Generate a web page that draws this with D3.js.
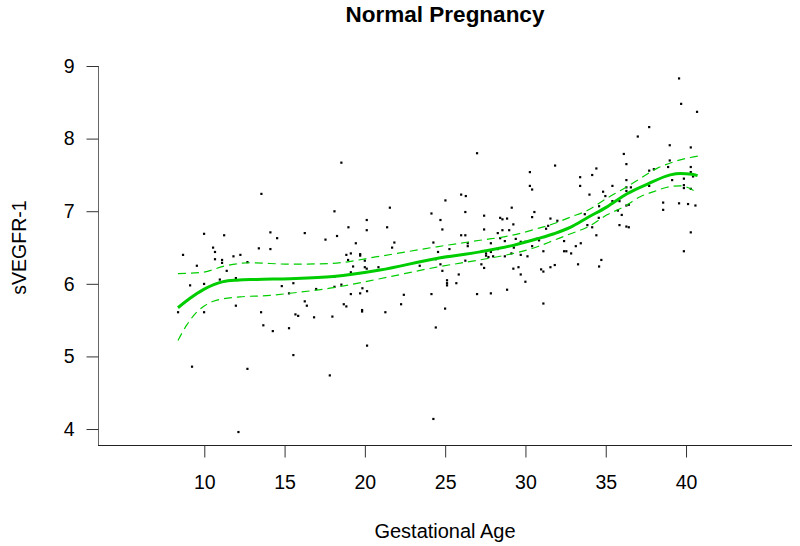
<!DOCTYPE html>
<html>
<head>
<meta charset="utf-8">
<script src="https://cdn.jsdelivr.net/npm/d3@7"></script>
<style>
  html, body { margin: 0; padding: 0; background: #ffffff; }
  svg { display: block; }
  text { font-family: "Liberation Sans", Arial, Helvetica, sans-serif; fill: #000; }
</style>
</head>
<body>
<svg id="chart" width="800" height="546"></svg>
<script>
// ---- data ----
const title = "Normal Pregnancy";
const xLabel = "Gestational Age";
const yLabel = "sVEGFR-1";
const xTicks = [10, 15, 20, 25, 30, 35, 40];
const yTicks = [4, 5, 6, 7, 8, 9];

// observations: gestational age (weeks) and sVEGFR-1
const ga = [9.98,11.23,14.11,14.53,8.67,10.54,10.66,10.66,11.10,11.10,11.81,12.24,13.39,14.11,9.53,12.68,11.39,9.11,9.98,10.96,11.96,14.82,15.27,8.36,9.98,11.96,13.53,13.67,14.26,15.27,9.23,12.68,
13.55,12.12,15.54,15.67,15.84,15.54,
18.53,18.10,21.55,20.11,18.97,20.11,21.38,16.25,18.26,17.54,19.43,21.83,21.69,18.84,19.12,19.70,19.70,18.95,19.99,19.26,19.99,20.11,20.84,19.12,18.10,18.10,18.53,16.96,19.84,20.13,19.70,19.12,16.25,16.38,18.68,18.84,19.82,19.82,21.27,22.25,16.83,17.97,20.13,17.81,
26.98,25.99,26.28,25.01,24.14,26.25,24.70,27.42,28.42,28.56,24.82,27.42,28.56,28.27,25.99,26.25,28.42,28.71,24.26,26.40,26.40,27.84,25.26,28.27,24.55,27.54,27.54,27.84,27.69,27.98,28.71,24.41,26.25,24.70,27.25,27.42,23.41,24.82,25.84,25.11,25.11,25.11,25.69,22.42,24.14,26.98,27.84,24.99,24.41,24.26,
31.84,30.27,34.41,33.40,34.15,30.27,30.41,33.40,34.83,34.97,33.98,29.14,30.55,30.41,28.85,31.55,31.98,33.69,34.56,34.58,29.24,28.98,31.41,31.28,33.85,34.15,34.41,29.39,30.70,30.84,29.70,29.99,32.40,29.27,30.41,33.44,33.13,31.11,32.40,32.54,32.84,29.12,29.70,30.12,34.72,33.27,31.82,31.55,34.58,29.24,29.56,30.97,31.11,29.70,29.99,28.85,31.11,
39.56,39.69,40.68,37.70,36.99,36.12,38.98,40.29,36.28,38.98,38.88,37.70,37.99,40.29,40.29,40.43,39.86,39.13,36.28,35.41,36.28,36.56,36.28,37.70,39.86,39.86,40.29,35.41,35.85,38.57,39.56,40.12,40.58,36.28,36.43,35.75,38.57,35.99,35.85,36.28,36.43,40.29,39.86];
const sflt = [6.69,6.67,6.71,6.63,6.40,6.50,6.44,6.34,6.33,6.29,6.38,6.40,6.49,6.48,6.25,6.30,6.18,5.98,6.00,6.06,6.08,5.97,5.87,5.61,5.61,5.70,5.61,5.43,5.35,5.39,4.86,4.83,
7.24,3.96,6.01,5.58,5.56,5.02,
7.67,7.00,7.05,6.88,6.78,6.74,6.78,6.70,6.66,6.61,6.56,6.57,6.50,6.40,6.42,6.41,6.39,6.33,6.32,6.24,6.23,6.21,6.23,6.16,6.10,5.96,5.99,5.93,5.94,5.90,5.87,5.86,5.76,5.70,5.72,5.69,5.64,5.62,5.61,5.72,5.54,5.55,5.15,4.74,
7.80,7.23,7.21,7.15,6.97,6.99,6.88,6.94,6.91,6.89,6.75,6.75,6.74,6.70,6.67,6.67,6.63,6.59,6.57,6.56,6.52,6.56,6.48,6.48,6.44,6.42,6.39,6.44,6.37,6.38,6.38,6.34,6.32,6.27,6.27,6.22,6.25,6.18,6.13,6.05,6.01,5.98,6.01,5.85,5.86,5.86,5.87,5.66,5.40,4.14,
7.63,7.54,7.59,7.47,7.50,7.35,7.30,7.35,7.27,7.21,7.23,7.05,6.99,6.92,6.90,6.90,6.87,6.96,6.91,7.07,6.82,6.74,6.80,6.76,6.81,6.78,6.67,6.62,6.62,6.60,6.58,6.58,6.59,6.50,6.52,6.56,6.52,6.45,6.45,6.45,6.42,6.42,6.40,6.38,6.33,6.27,6.26,6.23,6.24,6.21,6.23,6.20,6.17,6.13,6.03,5.92,5.73,
8.83,8.48,8.37,8.16,8.03,7.79,7.91,7.88,7.65,7.70,7.61,7.56,7.58,7.61,7.54,7.48,7.45,7.43,7.43,7.35,7.33,7.33,7.28,7.35,7.36,7.32,7.31,7.14,7.14,7.12,7.11,7.10,7.08,7.08,7.09,7.01,7.02,6.95,6.81,6.79,6.78,6.71,6.45];

// fitted curve
const fitAge = [8.36,9.11,9.94,11.18,12.02,13.26,15.34,18.03,20.94,24.47,27.17,29.24,30.74,31.78,32.82,33.85,35.08,36.33,37.57,39.02,39.64,40.37,40.72];
const fitVal = [5.67,5.80,5.92,6.03,6.05,6.06,6.07,6.10,6.19,6.35,6.44,6.53,6.62,6.69,6.78,6.91,7.06,7.24,7.37,7.50,7.52,7.51,7.49];
// upper confidence band
const upperAge = [8.36,9.94,11.18,12.85,14.09,15.34,17.83,20.94,24.47,27.17,28.98,30.74,31.78,32.82,33.85,35.08,36.12,37.15,38.19,39.23,40.27,40.79];
const upperVal = [6.14,6.16,6.24,6.29,6.28,6.27,6.28,6.38,6.51,6.60,6.66,6.76,6.83,6.92,7.01,7.18,7.31,7.45,7.59,7.68,7.74,7.76];
// lower confidence band
const lowerAge = [8.36,8.90,9.53,10.04,10.56,12.22,14.09,15.34,17.83,20.94,24.47,27.17,28.66,30.74,31.78,32.82,33.85,35.08,36.12,37.15,37.99,38.82,39.64,40.52];
const lowerVal = [5.22,5.43,5.61,5.70,5.76,5.82,5.84,5.87,5.94,6.07,6.23,6.33,6.39,6.51,6.60,6.69,6.78,6.95,7.06,7.20,7.27,7.33,7.35,7.28];

// plot-region extent in data units
const xExtent = [3.38, 46.6];
const yExtent = [3.78, 9];

// ---- drawing ----
const svg = d3.select("#chart");
const x = d3.scaleLinear().domain(xExtent).range([98, 792]);
const y = d3.scaleLinear().domain(yExtent).range([445, 66]);
const green = "#00cd00";

// L-shaped frame
svg.append("line")
  .attr("x1", x(xExtent[0]) + 0.5).attr("x2", x(xExtent[0]) + 0.5)
  .attr("y1", y(yExtent[1])).attr("y2", y(yExtent[0]) + 0.5)
  .attr("stroke", "#666").attr("stroke-width", 1);
svg.append("line")
  .attr("x1", x(xExtent[0])).attr("x2", x(xExtent[1]))
  .attr("y1", y(yExtent[0]) + 0.5).attr("y2", y(yExtent[0]) + 0.5)
  .attr("stroke", "#222").attr("stroke-width", 1);

// x axis
const xAxis = d3.axisBottom(x).tickValues(xTicks).tickSize(12).tickPadding(18).tickFormat(d3.format("d"));
const gx = svg.append("g").attr("transform", `translate(0,${y(yExtent[0]) + 0.5})`).call(xAxis);
gx.select(".domain").remove();
gx.selectAll(".tick line").attr("stroke", "#333");
gx.selectAll(".tick text").style("font-size", "19.5px").attr("fill", "#000");

// y axis
const yAxis = d3.axisLeft(y).tickValues(yTicks).tickSize(12).tickPadding(12).tickFormat(d3.format("d"));
const gy = svg.append("g").attr("transform", `translate(${x(xExtent[0]) + 0.5},0)`).call(yAxis);
gy.select(".domain").remove();
gy.selectAll(".tick line").attr("stroke", "#333");
gy.selectAll(".tick text").style("font-size", "19.5px").attr("fill", "#000");

// points
const pts = ga.map((g, i) => ({ g, v: sflt[i] }));
svg.append("g").selectAll("rect").data(pts).join("rect")
  .attr("x", d => x(d.g) - 1).attr("y", d => y(d.v) - 1)
  .attr("width", 2.2).attr("height", 2.2).attr("fill", "#000");

// curves
const line = d3.line().x(d => x(d[0])).y(d => y(d[1])).curve(d3.curveMonotoneX);
const zip = (a, b) => a.map((v, i) => [v, b[i]]);
svg.append("path").attr("d", line(zip(upperAge, upperVal)))
  .attr("fill", "none").attr("stroke", green).attr("stroke-width", 1.2).attr("stroke-dasharray", "8,5");
svg.append("path").attr("d", line(zip(lowerAge, lowerVal)))
  .attr("fill", "none").attr("stroke", green).attr("stroke-width", 1.2).attr("stroke-dasharray", "8,5");
svg.append("path").attr("d", line(zip(fitAge, fitVal)))
  .attr("fill", "none").attr("stroke", green).attr("stroke-width", 3).attr("stroke-linejoin", "round");

// titles
const cx = (x(xExtent[0]) + x(xExtent[1])) / 2;
svg.append("text").attr("x", cx).attr("y", 22).attr("text-anchor", "middle")
  .style("font-size", "22.5px").style("font-weight", "bold").text(title);
svg.append("text").attr("x", cx).attr("y", 538).attr("text-anchor", "middle")
  .style("font-size", "20px").text(xLabel);
svg.append("text").attr("transform", `translate(26,${(y(4) + y(9)) / 2}) rotate(-90)`)
  .attr("text-anchor", "middle").style("font-size", "19.5px").text(yLabel);
</script>
</body>
</html>
